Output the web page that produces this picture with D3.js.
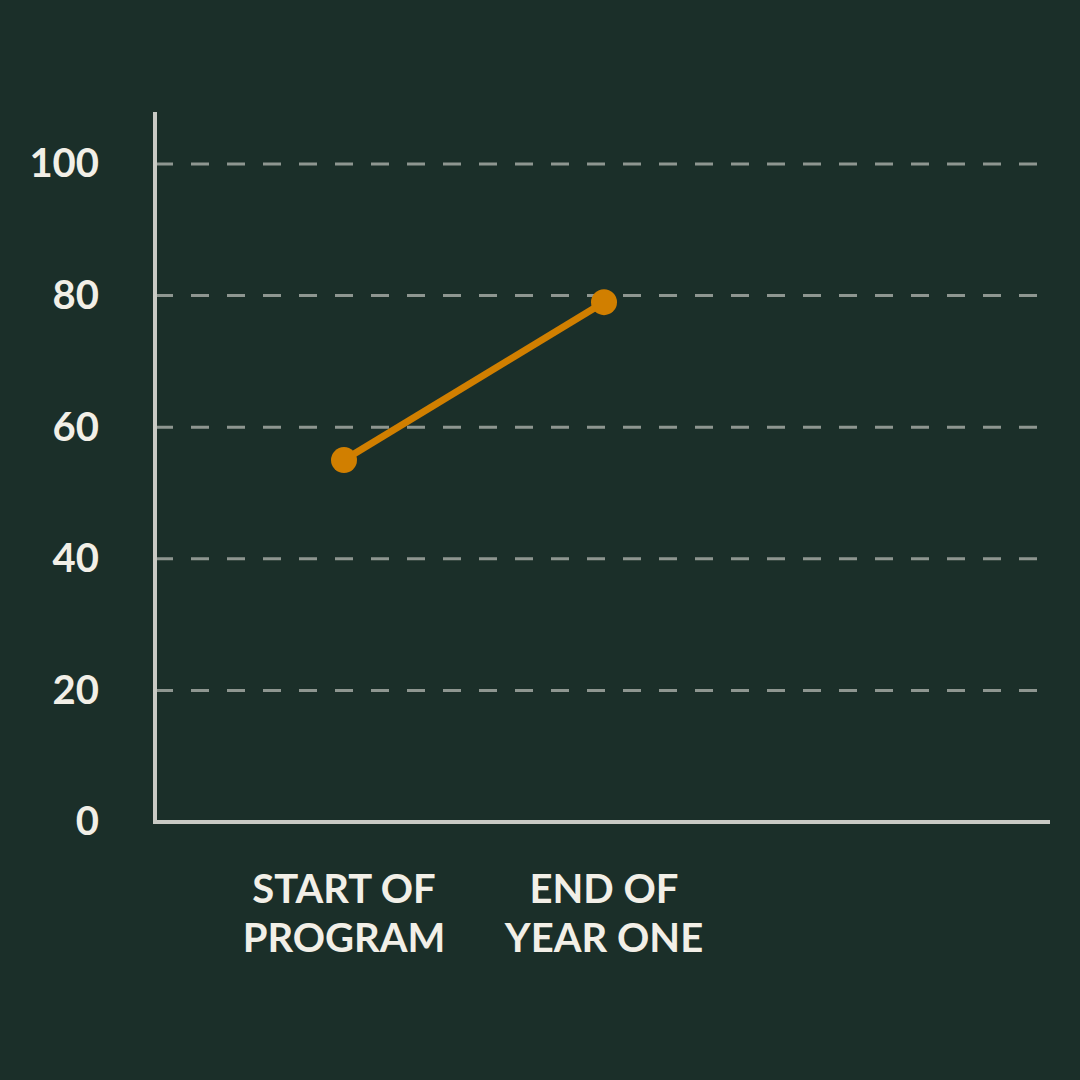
<!DOCTYPE html>
<html>
<head>
<meta charset="utf-8">
<script src="https://cdn.jsdelivr.net/npm/d3@7"></script>
<style>
  html, body { margin: 0; padding: 0; background: #1b2f29; }
  svg { display: block; }
  text { font-family: Lato, "Open Sans", sans-serif; font-weight: 700; fill: #f2efe7; }
</style>
</head>
<body>
<svg id="chart" width="1080" height="1080"></svg>
<script>
const categories = [["START OF", "PROGRAM"], ["END OF", "YEAR ONE"]];
const values = [55, 79];
const yTicks = [0, 20, 40, 60, 80, 100];

(function () {
const svg = d3.select("#chart");
svg.append("rect").attr("width", 1080).attr("height", 1080).attr("fill", "#1b2f29");

const mLeft = 155, mRight = 1050, mBottom = 822, mTop = 112;
const y = d3.scaleLinear().domain([0, 100]).range([mBottom, 164]);
const x = d3.scalePoint().domain(categories.map(c => c.join(" "))).range([344, 604]);

// gridlines
svg.append("g").selectAll("line").data(yTicks.filter(d => d > 0)).join("line")
  .attr("x1", mLeft).attr("x2", 1040)
  .attr("y1", d => y(d)).attr("y2", d => y(d))
  .attr("stroke", "#8e9690").attr("stroke-width", 3)
  .attr("stroke-dasharray", "18 18");

// axes
const yAxis = d3.axisLeft(y).tickValues(yTicks).tickSize(0).tickPadding(56);
const gy = svg.append("g").attr("transform", `translate(${mLeft},0)`).call(yAxis);
gy.select(".domain").remove();
gy.selectAll("text").attr("font-size", 40).attr("fill", "#f2efe7").attr("font-family", "Lato").attr("font-weight", 700);

svg.append("line").attr("x1", mLeft).attr("x2", mLeft).attr("y1", mTop).attr("y2", mBottom + 2)
  .attr("stroke", "#c9cac4").attr("stroke-width", 4);
svg.append("line").attr("x1", mLeft - 2).attr("x2", mRight).attr("y1", mBottom).attr("y2", mBottom)
  .attr("stroke", "#c9cac4").attr("stroke-width", 4);

// category labels
const labels = svg.append("g").selectAll("text").data(categories).join("text")
  .attr("text-anchor", "middle")
  .attr("x", d => x(d.join(" ")))
  .attr("font-size", 40);
labels.each(function(d) {
  const t = d3.select(this);
  d.forEach((line, i) => {
    t.append("tspan").attr("x", x(d.join(" "))).attr("y", 903 + i * 49).text(line);
  });
});

// line + points
const data = categories.map((c, i) => ({ c: c.join(" "), v: values[i] }));
svg.append("path").datum(data)
  .attr("d", d3.line().x(d => x(d.c)).y(d => y(d.v)))
  .attr("fill", "none").attr("stroke", "#d17f00").attr("stroke-width", 7);
svg.append("g").selectAll("circle").data(data).join("circle")
  .attr("cx", d => x(d.c)).attr("cy", d => y(d.v)).attr("r", 13)
  .attr("fill", "#d17f00");
})();
</script>
</body>
</html>
